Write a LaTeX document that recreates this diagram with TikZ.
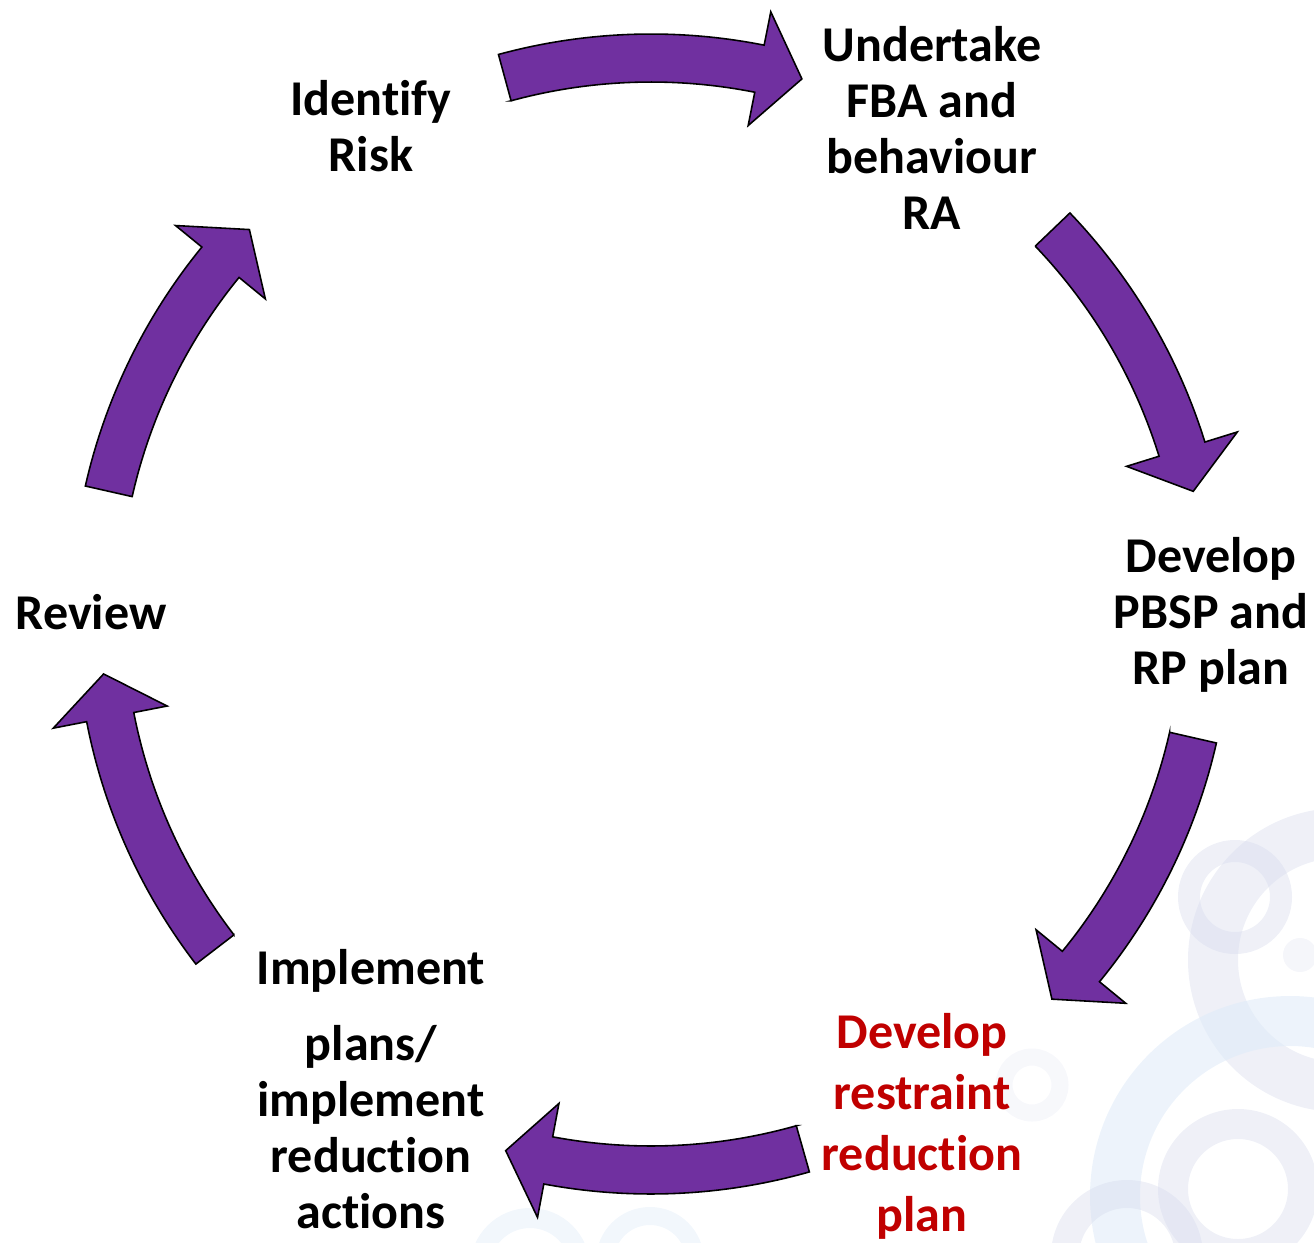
\documentclass[tikz,border=0pt]{standalone}
\usepackage{fontspec}
\setmainfont{Carlito}[Ligatures=NoCommon]
\usepackage{xcolor}

\definecolor{cyclepurple}{HTML}{7030A0}
\definecolor{planred}{HTML}{C00000}
\definecolor{ringlav}{RGB}{214,218,236}
\definecolor{ringblue}{RGB}{222,234,248}

\tikzset{
  arrowbody/.style={draw=black, line width=0.9pt, fill=cyclepurple, line join=miter},
  pics/cyclearrow/.style={code={
    \draw[arrowbody] (105.5:532) -- (105.5:580) arc[start angle=105.5, end angle=79, radius=580]
      -- (79:614) -- (74.5:556) -- (79:498) -- (79:532)
      arc[start angle=79, end angle=105.5, radius=532] -- cycle;
  }},
  lbl/.style={font=\fontsize{28.5}{31.9}\selectfont\bfseries, align=center, inner sep=1pt},
  ring/.style={draw=ringlav, draw opacity=0.4}
}

\begin{document}
\begin{tikzpicture}[x=0.02cm, y=0.02cm]
\useasboundingbox (-651,-628) rectangle (663,614);
\clip (-651,-628) rectangle (663,614);

\draw[ring, line width=0.44cm] (584,-283) circle[radius=46];
\draw[ring, line width=1cm] (689,-346) circle[radius=127];
\fill[ringlav, opacity=0.25] (649,-341) circle[radius=17];
\draw[ring, draw=ringblue, draw opacity=0.55, line width=1cm] (639,-582) circle[radius=175];
\draw[ring, line width=0.6cm] (587,-575) circle[radius=65];
\draw[ring, line width=0.56cm] (476,-642) circle[radius=62];
\draw[ring, draw opacity=0.2, line width=0.34cm] (381,-471) circle[radius=28];
\draw[ring, draw=ringblue, draw opacity=0.4, line width=0.4cm] (-121,-654) circle[radius=50];
\draw[ring, draw=ringblue, draw opacity=0.4, line width=0.36cm] (-1,-647) circle[radius=45];

\pic[rotate=-0.25] {cyclearrow};
\pic[rotate=-61.75] {cyclearrow};
\pic[rotate=-118.35] {cyclearrow};
\pic[rotate=180.35] {cyclearrow};
\pic[shift={(5,3)}, rotate=112] {cyclearrow};
\pic[rotate=61.75] {cyclearrow};

\node[lbl] (risk) at (-280,488) {Identify\\Risk};
\node[lbl] (fba) at (281,486) {Undertake\\FBA and\\behaviour\\RA};
\node[lbl] (pbsp) at (560,-1) {Develop\\PBSP and\\RP plan};
\node[lbl, text=planred, font=\fontsize{28.5}{34.7}\selectfont\bfseries] (restraint) at (271,-512) {Develop\\restraint\\reduction\\plan};
\node[lbl] (implement) at (-280,-475) {Implement\\[0.4cm]plans/\\implement\\reduction\\actions};
\node[lbl] (review) at (-560,2) {Review};
\end{tikzpicture}
\end{document}
